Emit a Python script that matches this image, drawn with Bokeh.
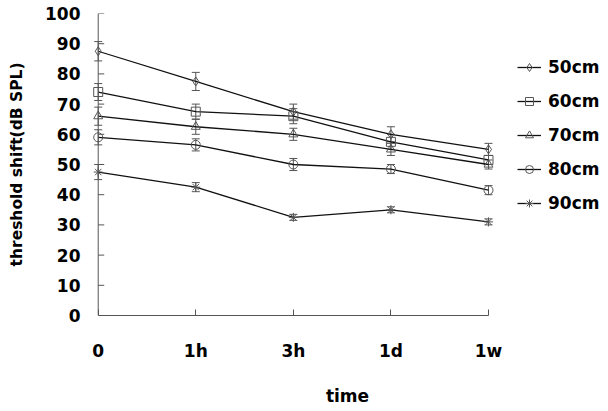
from bokeh.plotting import figure
from bokeh.models import (ColumnDataSource, Range1d, FixedTicker, Whisker, TeeHead,
                          Legend, LegendItem, Span)
from bokeh.embed import file_html
from bokeh.resources import INLINE

times = ["0", "1h", "3h", "1d", "1w"]
labels = ["50cm", "60cm", "70cm", "80cm", "90cm"]
s50 = [87.5, 77.5, 67.5, 60.0, 55.0]
s60 = [74.0, 67.5, 66.0, 57.5, 51.5]
s70 = [66.0, 62.5, 60.0, 55.0, 50.0]
s80 = [59.0, 56.5, 50.0, 48.5, 41.5]
s90 = [47.5, 42.5, 32.5, 35.0, 31.0]
e50 = [3.2, 3.0, 2.5, 2.5, 2.0]
e60 = [2.8, 2.5, 2.5, 2.5, 1.5]
e70 = [3.0, 2.5, 2.0, 2.0, 1.5]
e80 = [2.5, 2.0, 2.0, 1.5, 1.5]
e90 = [2.5, 1.5, 1.0, 1.0, 1.0]
yticks = [0, 10, 20, 30, 40, 50, 60, 70, 80, 90, 100]
markers = ["diamond", "square", "triangle", "circle", "asterisk"]

series = [s50, s60, s70, s80, s90]
errors = [e50, e60, e70, e80, e90]
xs = list(range(len(times)))

FONT = "DejaVu Sans"
AX = "#555555"

p = figure(width=608, height=411, output_backend="svg", toolbar_location=None,
           x_range=Range1d(-0.12, 5.23), y_range=Range1d(0, 100),
           min_border_left=86, min_border_right=0, min_border_top=13,
           min_border_bottom=96)
p.outline_line_color = None
p.xgrid.visible = False
p.ygrid.visible = False

# y axis line at x = 0 and inward ticks
p.add_layout(Span(location=0, dimension="height", line_color=AX, line_width=1))
p.ray(x=[0] * len(yticks), y=yticks, length=6, length_units="screen", angle=0,
      line_color=AX, line_width=1)

items = []
for vals, errs, mk, lab in zip(series, errors, markers, labels):
    src = ColumnDataSource(dict(x=xs, y=vals,
                                upper=[v + e for v, e in zip(vals, errs)],
                                lower=[v - e for v, e in zip(vals, errs)]))
    p.add_layout(Whisker(source=src, base="x", upper="upper", lower="lower",
                         line_color=AX, line_width=1,
                         upper_head=TeeHead(size=8, line_color=AX, line_width=1),
                         lower_head=TeeHead(size=8, line_color=AX, line_width=1)))
    lr = p.line("x", "y", source=src, line_color="#111111", line_width=1.3)
    sr = p.scatter("x", "y", source=src, marker=mk, size=9, fill_color="white",
                   fill_alpha=0, line_color=AX, line_width=1)
    items.append(LegendItem(label=lab, renderers=[lr, sr]))

legend = Legend(items=items, location=(431, 102), padding=0, margin=0,
                border_line_color=None, background_fill_alpha=0,
                glyph_width=24, glyph_height=20, label_height=20, spacing=14,
                label_standoff=7, label_text_font=FONT, label_text_color="black",
                label_text_font_style="bold", label_text_font_size="17px")
p.add_layout(legend, "center")

xa = p.xaxis[0]
xa.ticker = FixedTicker(ticks=xs)
xa.major_label_overrides = {i: t for i, t in zip(xs, times)}
xa.bounds = (0, 4)
xa.axis_label = "time"
ya = p.yaxis[0]
ya.ticker = FixedTicker(ticks=yticks)
ya.axis_label = "threshold shift(dB SPL)"
ya.axis_line_color = None
ya.major_tick_line_color = None

for ax in (xa, ya):
    ax.major_tick_in = 6
    ax.major_tick_out = 0
    ax.minor_tick_line_color = None
    ax.major_label_text_font = FONT
    ax.major_label_text_font_style = "bold"
    ax.major_label_text_font_size = "17px"
    ax.major_label_text_color = "black"
    ax.axis_label_text_font = FONT
    ax.axis_label_text_font_style = "bold"
    ax.axis_label_text_color = "black"

xa.axis_label_text_font_size = "17px"
ya.axis_label_text_font_size = "15.5px"
xa.axis_line_color = AX
xa.major_tick_line_color = AX
xa.major_label_standoff = 25
xa.axis_label_standoff = 22
ya.major_label_standoff = 6
ya.axis_label_standoff = 16

open("out.html", "w").write(file_html(p, INLINE))
